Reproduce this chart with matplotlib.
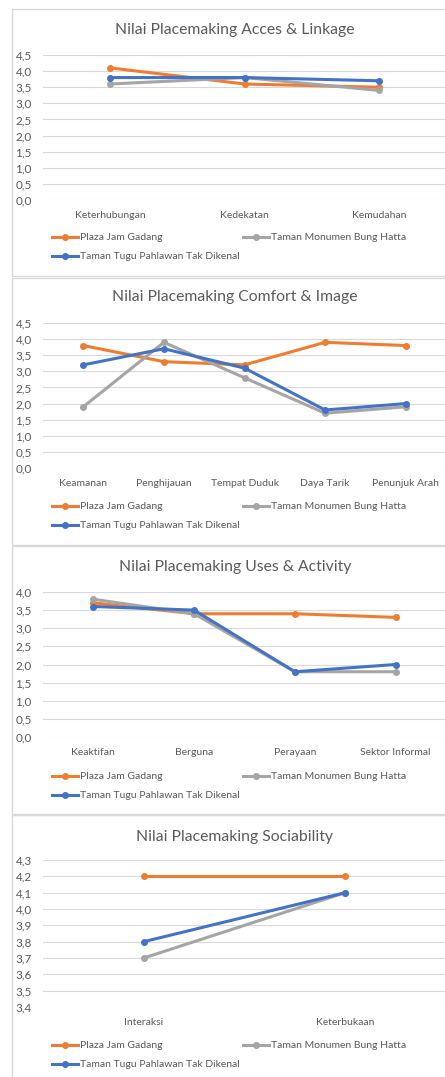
import matplotlib.pyplot as plt
from matplotlib.patches import Rectangle
from matplotlib.ticker import FuncFormatter, MultipleLocator

plt.rcParams['font.family'] = ['Lato', 'DejaVu Sans']

W, H = 445, 1077

series_names = ["Plaza Jam Gadang", "Taman Monumen Bung Hatta", "Taman Tugu Pahlawan Tak Dikenal"]
colors = ["#ED7D31", "#A5A5A5", "#4472C4"]

# panel 1
titles1 = "Nilai Placemaking Acces & Linkage"
cats1 = ["Keterhubungan", "Kedekatan", "Kemudahan"]
plaza1 = [4.1, 3.6, 3.5]
hatta1 = [3.6, 3.8, 3.4]
tugu1 = [3.8, 3.8, 3.7]

# panel 2
titles2 = "Nilai Placemaking Comfort & Image"
cats2 = ["Keamanan", "Penghijauan", "Tempat Duduk", "Daya Tarik", "Penunjuk Arah"]
plaza2 = [3.8, 3.3, 3.2, 3.9, 3.8]
hatta2 = [1.9, 3.9, 2.8, 1.7, 1.9]
tugu2 = [3.2, 3.7, 3.1, 1.8, 2.0]

# panel 3
titles3 = "Nilai Placemaking Uses & Activity"
cats3 = ["Keaktifan", "Berguna", "Perayaan", "Sektor Informal"]
plaza3 = [3.7, 3.4, 3.4, 3.3]
hatta3 = [3.8, 3.4, 1.8, 1.8]
tugu3 = [3.6, 3.5, 1.8, 2.0]

# panel 4
titles4 = "Nilai Placemaking Sociability"
cats4 = ["Interaksi", "Keterbukaan"]
plaza4 = [4.2, 4.2]
hatta4 = [3.7, 4.1]
tugu4 = [3.8, 4.1]

# layout in pixels: box top, box bottom, title y, axes top, axes bottom, ymin, ymax, step, legend top
panels = [
    (titles1, cats1, [plaza1, hatta1, tugu1], 9, 276, 30, 55, 200, 0.0, 4.5, 0.5, 233),
    (titles2, cats2, [plaza2, hatta2, tugu2], 278, 545, 297, 323, 468, 0.0, 4.5, 0.5, 502),
    (titles3, cats3, [plaza3, hatta3, tugu3], 546, 814, 567, 592, 737, 0.0, 4.0, 0.5, 772),
    (titles4, cats4, [plaza4, hatta4, tugu4], 815, 1085, 837, 860, 1007, 3.4, 4.3, 0.1, 1041),
]

fig = plt.figure(figsize=(W / 100, H / 100), dpi=100)
fmt = FuncFormatter(lambda v, p: f"{v:.1f}".replace('.', ','))
txt = "#595959"

for title, cats, vals, btop, bbot, ty, atop, abot, ymin, ymax, step, legy in panels:
    fig.patches.append(Rectangle((12 / W, 1 - bbot / H), (W + 10 - 12) / W, (bbot - btop) / H,
                                 transform=fig.transFigure, fill=False, ec="#D9D9D9", lw=1))
    fig.text(235 / W, 1 - ty / H, title, ha='center', va='center', fontsize=11.3, color=txt)
    ax = fig.add_axes([43 / W, 1 - abot / H, (446 - 43) / W, (abot - atop) / H])
    x = list(range(len(cats)))
    lines = []
    for name, v, c in zip(series_names, vals, colors):
        ln, = ax.plot(x, v, color=c, lw=2.2, marker='o', markersize=4, label=name)
        lines.append(ln)
    ax.set_xlim(-0.5, len(cats) - 0.5)
    ax.set_ylim(ymin, ymax)
    ax.yaxis.set_major_locator(MultipleLocator(step))
    ax.yaxis.set_major_formatter(fmt)
    ax.set_xticks(x)
    ax.set_xticklabels(cats)
    ax.grid(axis='y', color="#D9D9D9", lw=0.8)
    ax.set_axisbelow(True)
    for s in ax.spines.values():
        s.set_visible(False)
    ax.tick_params(axis='y', length=0, labelsize=8.5, labelcolor=txt, pad=8)
    ax.tick_params(axis='x', length=0, labelsize=7.5, labelcolor=txt, pad=8)
    ax.set_facecolor('none')
    order = [lines[0], lines[2], lines[1]]
    ax.legend(handles=order, labels=[l.get_label() for l in order], ncol=2, loc='upper left',
              bbox_to_anchor=(52 / W, 1 - legy / H), bbox_transform=fig.transFigure,
              frameon=False, fontsize=7.5, labelcolor=txt, handlelength=2.5, handletextpad=0.2,
              columnspacing=0.3, borderpad=0, borderaxespad=0, labelspacing=0.95)

fig.savefig("out.png", dpi=100, facecolor='white')
